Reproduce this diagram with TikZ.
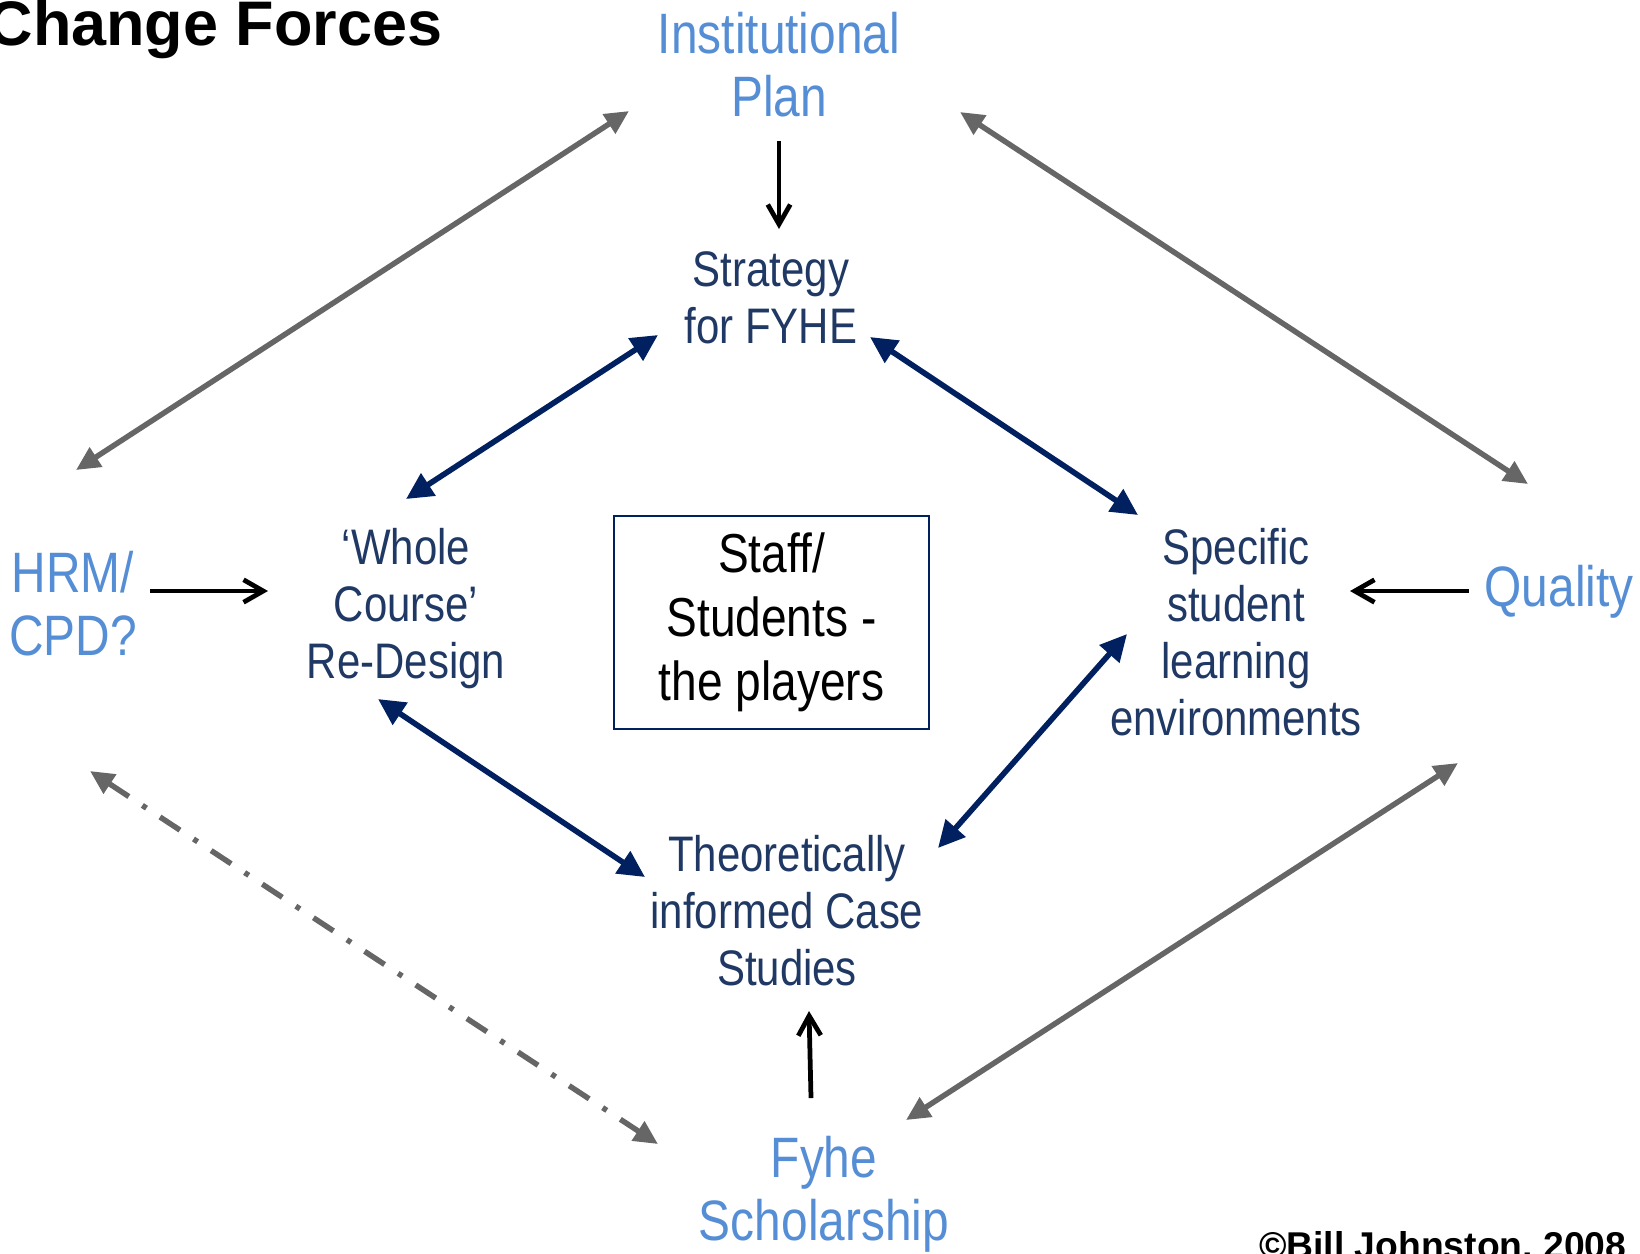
\documentclass[tikz,border=0pt]{standalone}
\usepackage{fontspec}
\setmainfont{Liberation Sans}[FakeStretch=0.84]
\newfontfamily\headFont{Liberation Sans}
\usetikzlibrary{arrows.meta}
\definecolor{lightBlue}{RGB}{85,142,213}
\definecolor{navyText}{RGB}{31,56,100}
\definecolor{navyLine}{RGB}{0,32,96}
\definecolor{greyLine}{RGB}{102,102,102}
\newcommand{\twoWay}[3]{%
  \draw[#1] (#2) -- (#3);
}

\begin{document}
\begin{tikzpicture}[%
  x=0.01cm,y=-0.01cm,%
  greyArrow/.style={{Triangle[length=6.8pt,width=6.3pt]}-{Triangle[length=6.8pt,width=6.3pt]},line width=1.55pt,greyLine},%
  navyArrow/.style={{Triangle[length=7.6pt,width=7.3pt]}-{Triangle[length=7.6pt,width=7.3pt]},line width=1.6pt,navyLine},%
  blackArrow/.style={-{Straight Barb[length=5.6pt,width=6.4pt]},line width=1.35pt,black},%
  blueStyle/.style={align=center,inner sep=0pt,text=lightBlue,font=\fontsize{16.2}{17.9}\selectfont},%
  navyStyle/.style={align=center,inner sep=0pt,text=navyText,font=\fontsize{14.2}{16.2}\selectfont},%
  boxStyle/.style={draw=navyLine,line width=0.7pt,align=center,inner sep=0pt,minimum width=3.15cm,minimum height=2.13cm,font=\fontsize{15.6}{18.2}\selectfont}%
]
%
\useasboundingbox (0,0) rectangle (1640,1253);
%
% Headings, cut by the page edges.
\node[anchor=base east,inner sep=0pt,font=\headFont\bfseries\fontsize{17.9}{20}\selectfont] (title) at (443,45) {Change Forces};
\node[anchor=base east,inner sep=0pt,font=\headFont\bfseries\fontsize{10.6}{12}\selectfont] (copyright) at (1627,1258) {©Bill Johnston, 2008};
%
% The outer forces.
\node[blueStyle] (instPlan) at (779,65) {Institutional\\Plan};
\node[blueStyle] (hrm) at (73,604) {HRM/\\CPD?};
\node[blueStyle] (quality) at (1559,592) {Quality};
\node[blueStyle] (fyhe) at (824,1194) {Fyhe\\Scholarship};
%
% The inner ring.
\node[navyStyle] (strategy) at (771,298) {Strategy\\for FYHE};
\node[navyStyle] (wholeCourse) at (406,609) {‘Whole\\Course’\\Re-Design};
\node[navyStyle] (specific) at (1236,632) {Specific\\student\\learning\\environments};
\node[navyStyle] (theory) at (787,911) {Theoretically\\informed Case\\Studies};
\node[boxStyle] (players) at (771.5,622.5) {Staff/\\Students -\\the players};
%
% Ends of the outer arrows.
\coordinate (hrmUp) at (76,470);
\coordinate (instLeft) at (629,111);
\coordinate (instRight) at (960,112);
\coordinate (qualityUp) at (1528,484);
\coordinate (qualityDown) at (1458,763);
\coordinate (fyheRight) at (906,1120);
\coordinate (hrmDown) at (90,771);
\coordinate (fyheLeft) at (658,1144);
% Ends of the inner arrows.
\coordinate (strategyLeft) at (658,335);
\coordinate (wholeUp) at (406,499);
\coordinate (strategyRight) at (870,337);
\coordinate (specificUp) at (1138,515);
\coordinate (wholeDown) at (378,699);
\coordinate (theoryLeft) at (645,877);
\coordinate (specificDown) at (1127,634);
\coordinate (theoryRight) at (938,848);
% Ends of the one-way arrows.
\coordinate (instBelow) at (779,141);
\coordinate (strategyAbove) at (779,229);
\coordinate (hrmRight) at (150,591);
\coordinate (wholeLeft) at (268,591);
\coordinate (qualityLeft) at (1469,591);
\coordinate (specificRight) at (1350,591);
\coordinate (fyheAbove) at (811,1098);
\coordinate (theoryBelow) at (809,1011);
%
% Grey two-way arrows.
\twoWay{greyArrow}{hrmUp}{instLeft}
\twoWay{greyArrow}{instRight}{qualityUp}
\twoWay{greyArrow}{qualityDown}{fyheRight}
\twoWay{greyArrow,dash pattern=on 6.8pt off 4.6pt on 1.4pt off 4.6pt}{hrmDown}{fyheLeft}
% Navy two-way arrows.
\twoWay{navyArrow}{strategyLeft}{wholeUp}
\twoWay{navyArrow}{strategyRight}{specificUp}
\twoWay{navyArrow}{wholeDown}{theoryLeft}
\twoWay{navyArrow}{specificDown}{theoryRight}
% Black one-way arrows.
\draw[blackArrow] (instBelow) -- (strategyAbove);
\draw[blackArrow] (hrmRight) -- (wholeLeft);
\draw[blackArrow] (qualityLeft) -- (specificRight);
\draw[blackArrow] (fyheAbove) -- (theoryBelow);
\end{tikzpicture}
\end{document}
